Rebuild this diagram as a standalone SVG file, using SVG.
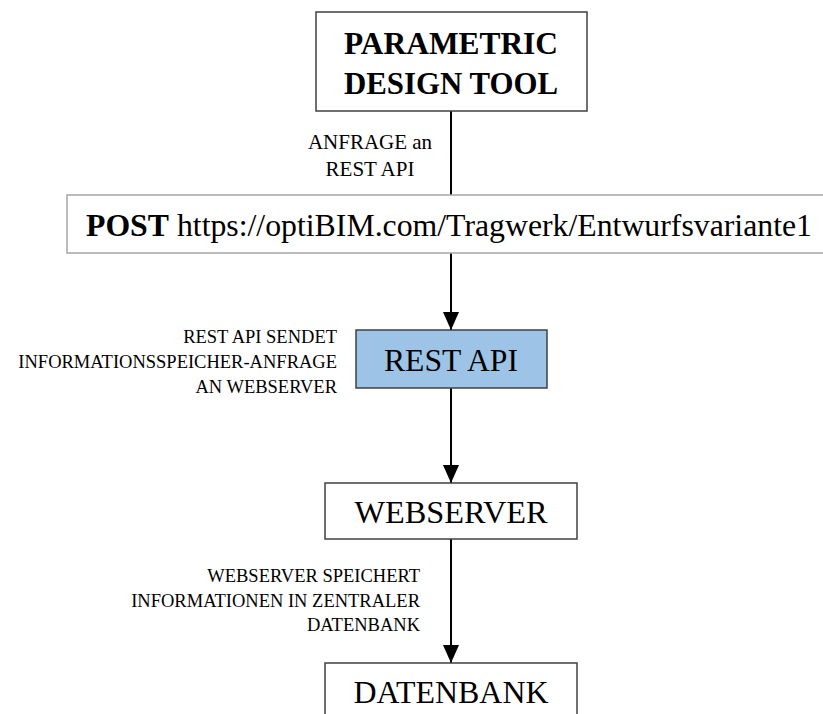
<svg xmlns="http://www.w3.org/2000/svg" width="823" height="714" viewBox="0 0 823 714">
  <style>
    .box { fill: #ffffff; stroke: #404040; stroke-width: 1.5; }
    .box-light { fill: #ffffff; stroke: #a6a6a6; stroke-width: 1.5; }
    .box-blue { fill: #9dc3e6; stroke: #404040; stroke-width: 1.5; }
    .title { font-size: 32px; fill: #000000; }
    .bold { font-weight: bold; }
    .label { font-size: 18.5px; fill: #000000; }
    .label-lg { font-size: 21px; fill: #000000; }
    .wire { stroke: #000000; stroke-width: 2; fill: none; }
  </style>
  <defs>
    <marker id="arrow" markerUnits="userSpaceOnUse" markerWidth="18" markerHeight="16" refX="18" refY="8" orient="auto">
      <path d="M0,0 L18,8 L0,16 z" fill="#000000"/>
    </marker>
  </defs>

  <rect width="823" height="714" fill="#ffffff"/>

  <!-- connectors -->
  <g id="connectors">
    <line class="wire" x1="451" y1="111" x2="451" y2="195"/>
    <line class="wire" x1="451" y1="253" x2="451" y2="330" marker-end="url(#arrow)"/>
    <line class="wire" x1="451" y1="388" x2="451" y2="483" marker-end="url(#arrow)"/>
    <line class="wire" x1="451" y1="539" x2="451" y2="663" marker-end="url(#arrow)"/>
  </g>

  <g font-family="'Liberation Serif', 'Times New Roman', serif">
    <!-- edge labels -->
    <g id="label-anfrage">
      <text class="label-lg" x="370" y="149" text-anchor="middle">ANFRAGE an</text>
      <text class="label-lg" x="370" y="176" text-anchor="middle">REST API</text>
    </g>
    <g id="label-speicheranfrage">
      <text class="label" x="337" y="343" text-anchor="end">REST API SENDET</text>
      <text class="label" x="337" y="368" text-anchor="end">INFORMATIONSSPEICHER-ANFRAGE</text>
      <text class="label" x="337" y="393" text-anchor="end">AN WEBSERVER</text>
    </g>
    <g id="label-speichert">
      <text class="label" x="420" y="582" text-anchor="end">WEBSERVER SPEICHERT</text>
      <text class="label" x="420" y="607" text-anchor="end">INFORMATIONEN IN ZENTRALER</text>
      <text class="label" x="420" y="631" text-anchor="end">DATENBANK</text>
    </g>

    <!-- nodes -->
    <g id="node-design-tool">
      <rect class="box" x="316" y="12" width="271" height="99"/>
      <text class="title bold" x="451" y="54" text-anchor="middle" textLength="214" lengthAdjust="spacingAndGlyphs">PARAMETRIC</text>
      <text class="title bold" x="451" y="94" text-anchor="middle" textLength="214" lengthAdjust="spacingAndGlyphs">DESIGN TOOL</text>
    </g>

    <g id="node-post">
      <rect class="box-light" x="67" y="195" width="770" height="58"/>
      <text class="title" x="86" y="236" textLength="726" lengthAdjust="spacingAndGlyphs"><tspan class="bold">POST</tspan> https://optiBIM.com/Tragwerk/Entwurfsvariante1</text>
    </g>

    <g id="node-rest-api">
      <rect class="box-blue" x="356" y="330" width="191" height="58"/>
      <text class="title" x="451" y="371" text-anchor="middle" textLength="134" lengthAdjust="spacingAndGlyphs">REST API</text>
    </g>

    <g id="node-webserver">
      <rect class="box" x="325" y="483" width="252" height="56"/>
      <text class="title" x="451" y="523" text-anchor="middle" textLength="193" lengthAdjust="spacingAndGlyphs">WEBSERVER</text>
    </g>

    <g id="node-datenbank">
      <rect class="box" x="325" y="663" width="252" height="70"/>
      <text class="title" x="451" y="703" text-anchor="middle" textLength="195" lengthAdjust="spacingAndGlyphs">DATENBANK</text>
    </g>
  </g>
</svg>
